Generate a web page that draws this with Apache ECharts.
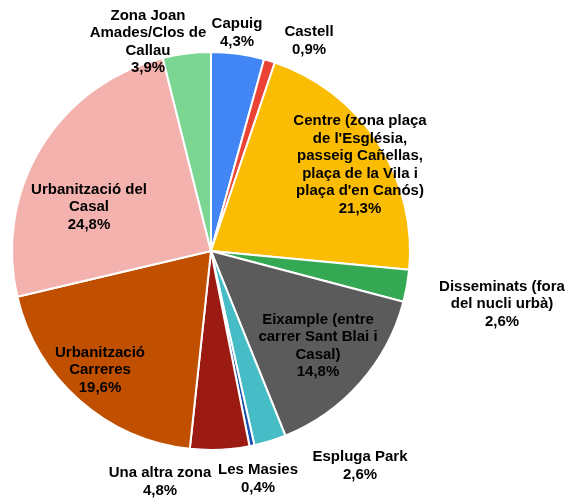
<!DOCTYPE html>
<html>
    <head>
        <meta charset="utf-8">
        <title>pie</title>
        <style>html,body{margin:0;padding:0;background:#fff}#chart{width:566px;height:499px}</style>
    </head>
    <body>
        <div id="chart"></div>
        <script type="text/javascript" src="https://cdn.jsdelivr.net/npm/echarts@6/dist/echarts.min.js"></script>
        <script>
            // zones (label text keeps the original line breaks)
            const names = [
                'Capuig',
                'Castell',
                "Centre (zona plaça\nde l'Església,\npasseig Cañellas,\nplaça de la Vila i\nplaça d'en Canós)",
                'Disseminats (fora\ndel nucli urbà)',
                'Eixample (entre\ncarrer Sant Blai i\nCasal)',
                'Espluga Park',
                'Les Masies',
                'Una altra zona',
                'Urbanització\nCarreres',
                'Urbanització del\nCasal',
                'Zona Joan\nAmades/Clos de\nCallau'
            ];
            const values = [4.3, 0.9, 21.3, 2.6, 14.8, 2.6, 0.4, 4.8, 19.6, 24.8, 3.9];
            const colors = ['#4285f4', '#ea4335', '#fbbc04', '#34a853', '#5b5b5b', '#46bdc6',
                            '#1a4fb0', '#9b1a12', '#c05000', '#f4b2ae', '#7bd694'];
            // label centres in px
            const labelPos = [
                [237, 33], [309, 41], [360, 165], [502, 304], [318, 346], [360, 466],
                [258, 479], [160, 482], [100, 370], [89, 207], [148, 42]
            ];

            const chart = echarts.init(document.getElementById('chart'));
            chart.setOption({
                animation: false,
                series: [{
                    type: 'pie',
                    center: [211, 251],
                    radius: 199,
                    startAngle: 90,
                    clockwise: true,
                    avoidLabelOverlap: false,
                    itemStyle: { borderColor: '#fff', borderWidth: 2 },
                    label: {
                        show: true,
                        position: 'inside',
                        color: '#000',
                        fontFamily: 'Liberation Sans, Arial, sans-serif',
                        fontWeight: 'bold',
                        fontSize: 15,
                        lineHeight: 17.5,
                        align: 'center',
                        formatter: p => p.name + '\n' + p.value.toFixed(1).replace('.', ',') + '%'
                    },
                    labelLine: { show: false },
                    labelLayout: p => ({
                        x: labelPos[p.dataIndex][0],
                        y: labelPos[p.dataIndex][1],
                        align: 'center',
                        verticalAlign: 'middle'
                    }),
                    emphasis: { disabled: true },
                    data: names.map((n, i) => ({ name: n, value: values[i], itemStyle: { color: colors[i] } }))
                }]
            });
        </script>
    </body>
</html>
